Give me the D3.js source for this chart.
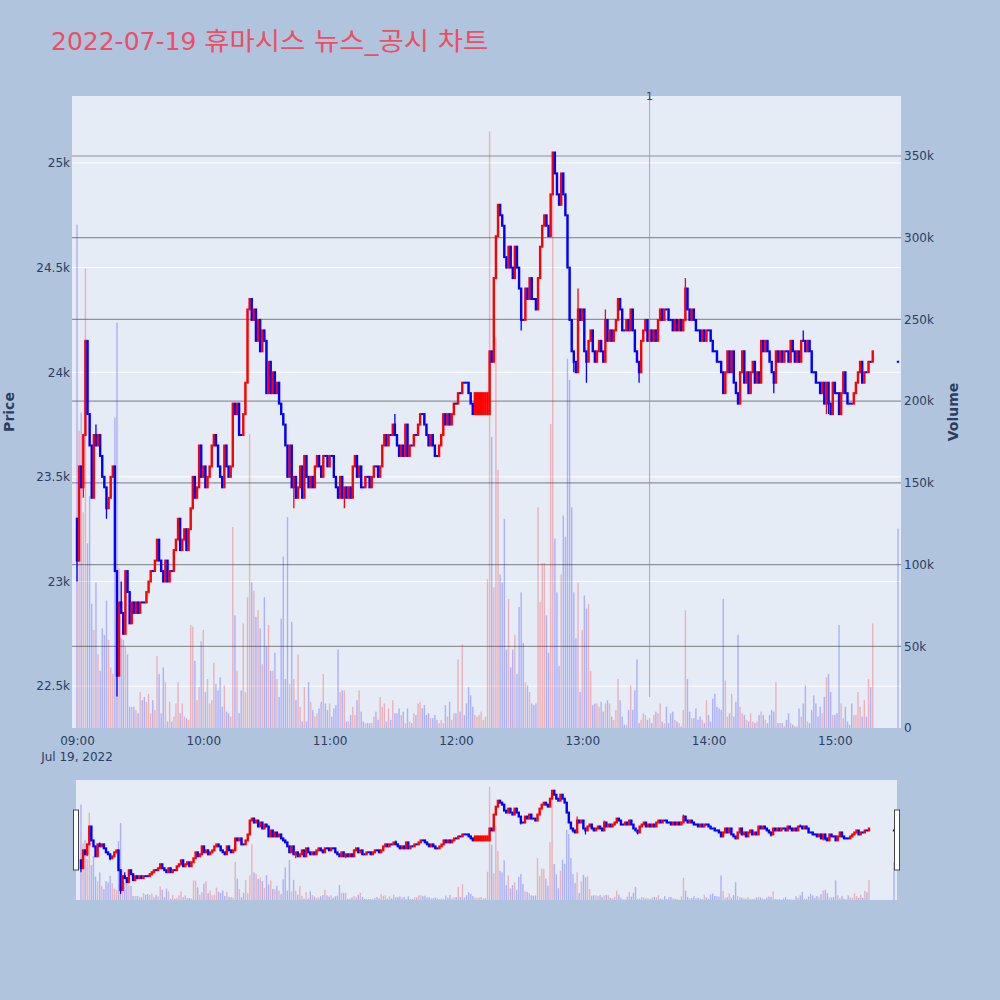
<!DOCTYPE html>
<html>
<head>
<meta charset="utf-8">
<script src="https://d3js.org/d3.v7.min.js"></script>
<style>
  body { margin: 0; background: #b0c4de; }
  svg { display: block; }
</style>
</head>
<body>
<div id="canvas"></div>
<script>
// chart data
var chartTitleDate = '2022-07-19';
var chartTitleName = '휴마시스 뉴스_공시 차트';
var tradeDate = [2022, 6, 19];
var sessionStart = '09:00';
var sessionEnd = '15:30';
var hourTicks = ['09:00', '10:00', '11:00', '12:00', '13:00', '14:00', '15:00'];
var priceTicks = [22500, 23000, 23500, 24000, 24500, 25000];
var volumeTicks = [0, 50, 100, 150, 200, 250, 300, 350]; // thousands of shares

// one close per minute from 09:00 (KRW)
var closes = [
  23100, 23550, 23450, 23700, 24150, 23800, 23650, 23400, 23700, 23650,
  23700, 23600, 23500, 23450, 23350, 23400, 23500, 23550, 23050, 22550,
  22900, 22850, 22750, 23050, 22950, 22800, 22900, 22850, 22900, 22850,
  22900, 22900, 22900, 22950, 23000, 23050, 23050, 23100, 23200, 23100,
  23050, 23000, 23100, 23000, 23050, 23050, 23150, 23200, 23300, 23150,
  23200, 23250, 23150, 23250, 23350, 23500, 23400, 23450, 23650, 23500,
  23550, 23450, 23500, 23550, 23650, 23700, 23650, 23550, 23500, 23450,
  23650, 23550, 23500, 23550, 23850, 23800, 23850, 23700, 23700, 23800,
  23950, 24300, 24350, 24250, 24300, 24150, 24250, 24100, 24200, 24150,
  23900, 24050, 23900, 24000, 23900, 23950, 23850, 23800, 23750, 23650,
  23500, 23650, 23450, 23500, 23400, 23450, 23550, 23400, 23600, 23500,
  23450, 23500, 23450, 23550, 23600, 23550, 23500, 23600, 23600, 23550,
  23600, 23600, 23500, 23450, 23400, 23500, 23400, 23450, 23400, 23450,
  23400, 23550, 23600, 23500, 23550, 23450, 23450, 23500, 23500, 23450,
  23500, 23550, 23550, 23500, 23550, 23650, 23700, 23650, 23700, 23700,
  23750, 23700, 23650, 23600, 23650, 23600, 23750, 23600, 23650, 23650,
  23700, 23700, 23750, 23800, 23800, 23750, 23700, 23650, 23700, 23650,
  23600, 23600, 23650, 23700, 23800, 23750, 23800, 23750, 23800, 23850,
  23850, 23900, 23900, 23950, 23950, 23950, 23900, 23850, 23800, 23900,
  23900, 23900, 23900, 23900, 23900, 23900, 24100, 24050, 24450, 24650,
  24800, 24750, 24700, 24550, 24500, 24600, 24500, 24450, 24600, 24500,
  24400, 24250, 24250, 24400, 24350, 24450, 24350, 24350, 24300, 24450,
  24600, 24700, 24750, 24700, 24650, 24850, 25050, 24950, 24850, 24800,
  24950, 24850, 24750, 24500, 24250, 24100, 24050, 24000, 24300, 24250,
  24300, 24100, 24050, 24150, 24200, 24100, 24050, 24100, 24150, 24100,
  24050, 24250, 24150, 24200, 24150, 24200, 24250, 24350, 24300, 24200,
  24200, 24250, 24200, 24300, 24200, 24100, 24050, 24000, 24150, 24200,
  24250, 24150, 24200, 24150, 24200, 24150, 24250, 24300, 24250, 24300,
  24300, 24250, 24250, 24200, 24250, 24200, 24250, 24200, 24250, 24400,
  24300, 24250, 24300, 24250, 24200, 24200, 24150, 24200, 24150, 24200,
  24200, 24150, 24100, 24100, 24050, 24050, 24000, 23900, 24000, 24100,
  24000, 24100, 23950, 23900, 23850, 24000, 24100, 23950, 24000, 23900,
  24000, 24050, 23950, 24000, 23950, 24150, 24100, 24150, 24100, 24050,
  24000, 23950, 24100, 24050, 24100, 24050, 24100, 24100, 24050, 24150,
  24100, 24050, 24100, 24050, 24150, 24150, 24100, 24150, 24100, 24000,
  24000, 23950, 23950, 23900, 23950, 23850, 23950, 23850, 23800, 23950,
  23900, 23900, 23800, 23900, 24000, 23900, 23850, 23850, 23850, 23900,
  23950, 24000, 24050, 23950, 24000, 24000, 24050, 24050, 24100
];

// minutes whose open is not the previous close
var openOverrides = { 0: 23300, 190: 23800, 191: 23800, 192: 23800, 193: 23800, 194: 23800, 195: 23800, 196: 23800 };
// minutes with a wick beyond the body
var highOverrides = { 9: 23750, 21: 23000, 151: 23800, 238: 24400, 251: 24300, 289: 24450, 345: 24200 };
var lowOverrides = { 0: 23000, 3: 23400, 14: 23300, 19: 22450, 103: 23350, 127: 23350, 211: 24200, 218: 24300,
  236: 24000, 242: 23950, 267: 23950, 331: 23900, 356: 23800, 357: 23800 };

// volume per minute, thousands of shares
var volumeThousands = [
  308, 182, 193, 132, 281, 113, 142, 76, 60, 89,
  45, 35, 61, 57, 78, 54, 37, 33, 190, 248,
  98, 55, 54, 50, 45, 13, 13, 13, 11, 9,
  22, 17, 19, 16, 21, 9, 17, 11, 44, 33,
  9, 37, 28, 4, 16, 4, 7, 15, 28, 9,
  15, 7, 6, 5, 63, 62, 41, 17, 25, 53,
  60, 22, 30, 15, 17, 40, 27, 23, 31, 13,
  26, 10, 9, 7, 123, 69, 35, 9, 23, 64,
  22, 80, 180, 89, 84, 68, 72, 61, 39, 80,
  50, 63, 35, 35, 46, 30, 19, 67, 105, 30,
  129, 27, 65, 30, 17, 45, 13, 4, 25, 4,
  28, 16, 11, 7, 9, 12, 16, 33, 15, 11,
  15, 7, 12, 14, 48, 22, 23, 23, 4, 4,
  8, 13, 8, 17, 23, 10, 4, 3, 3, 3,
  3, 7, 10, 5, 19, 13, 15, 4, 12, 5,
  17, 9, 9, 12, 8, 10, 3, 12, 4, 3,
  9, 8, 15, 16, 12, 14, 8, 9, 6, 6,
  8, 5, 3, 5, 3, 14, 7, 16, 5, 9,
  9, 42, 10, 51, 8, 15, 25, 20, 13, 8,
  7, 8, 10, 5, 7, 91, 365, 178, 86, 239,
  158, 94, 89, 128, 48, 79, 37, 48, 57, 33,
  74, 83, 52, 28, 26, 22, 15, 14, 15, 135,
  77, 101, 101, 69, 46, 186, 352, 116, 83, 38,
  94, 130, 117, 226, 213, 135, 83, 55, 89, 22,
  60, 81, 73, 76, 35, 14, 15, 15, 13, 16,
  10, 15, 17, 15, 7, 5, 11, 30, 17, 7,
  2, 2, 11, 26, 11, 23, 42, 3, 5, 9,
  8, 5, 6, 3, 8, 10, 9, 15, 4, 3,
  13, 3, 9, 10, 5, 4, 3, 1, 11, 72,
  30, 10, 6, 6, 12, 5, 7, 5, 3, 17,
  8, 4, 18, 21, 13, 12, 11, 79, 29, 7,
  9, 21, 7, 16, 57, 13, 9, 8, 5, 4,
  9, 4, 3, 4, 8, 10, 8, 5, 3, 8,
  11, 10, 28, 3, 3, 3, 1, 5, 9, 3,
  2, 1, 1, 12, 7, 15, 26, 4, 3, 11,
  20, 15, 7, 13, 9, 19, 31, 33, 22, 8,
  8, 9, 63, 15, 6, 13, 4, 2, 15, 8,
  8, 22, 13, 7, 17, 7, 30, 25, 64
];

// closing single-price auction
var auctionTime = '15:30';
var auctionPrice = 24050;
var auctionVolume = 122;

// news / disclosure markers
var newsTimes = ['13:32'];
var newsLabels = ['1'];

(function (d3) {
  var
    svg,
    plot,
    candles,
    x, xMini, yPrice, yVolume, yPriceMini, yVolumeMini,
    plotBox = { left: 72, right: 901, top: 96, bottom: 728 },
    miniBox = { left: 76, right: 897, top: 780, bottom: 900 },
    upColor = '#ff0000',
    downColor = '#0000ff',
    textColor = '#2a3f5f',
    fontFamily = '"DejaVu Sans", Verdana, "Noto Sans CJK KR", sans-serif';

  init();

  function init () {
    buildCandles();
    createSvg();
    createScales();
    createGrid();
    createVolumeBars(plot, x, yVolume, 1.4);
    createCandles(plot, x, yPrice, 2.4, 1.3);
    createNewsMarks();
    createAxes();
    createTitles();
    createRangeSlider();
  }

  function timeAt (hhmm) {
    var p = hhmm.split(':');
    return new Date(tradeDate[0], tradeDate[1], tradeDate[2], +p[0], +p[1]);
  }

  function buildCandles () {
    var start = timeAt(sessionStart);
    candles = closes.map(function (c, i) {
      var o = (i in openOverrides) ? openOverrides[i] : closes[i - 1];
      var h = Math.max(o, c, (i in highOverrides) ? highOverrides[i] : c);
      var l = Math.min(o, c, (i in lowOverrides) ? lowOverrides[i] : c);
      return { t: d3.timeMinute.offset(start, i), o: o, h: h, l: l, c: c, v: volumeThousands[i] };
    });
    candles.push({
      t: timeAt(auctionTime), o: auctionPrice, h: auctionPrice, l: auctionPrice,
      c: auctionPrice, v: auctionVolume
    });
  }

  function colorOf (d) {
    return d.c > d.o ? upColor : downColor;
  }

  function createSvg () {
    d3.select('#canvas').selectAll('svg').remove();
    svg = d3.select('#canvas')
      .append('svg')
      .attr('width', 1000)
      .attr('height', 1000)
      .style('font-family', fontFamily);

    svg.append('rect')
      .attr('width', 1000)
      .attr('height', 1000)
      .attr('fill', '#b0c4de');

    svg.append('defs')
      .append('clipPath')
      .attr('id', 'plot-clip')
      .append('rect')
      .attr('x', plotBox.left)
      .attr('y', plotBox.top)
      .attr('width', plotBox.right - plotBox.left)
      .attr('height', plotBox.bottom - plotBox.top);

    svg.append('rect')
      .attr('x', plotBox.left)
      .attr('y', plotBox.top)
      .attr('width', plotBox.right - plotBox.left)
      .attr('height', plotBox.bottom - plotBox.top)
      .attr('fill', '#e5ecf6');

    plot = svg.append('g').attr('clip-path', 'url(#plot-clip)');
  }

  function createScales () {
    x = d3.scaleTime()
      .domain([timeAt(sessionStart), timeAt(sessionEnd)])
      .range([77, 898]);
    yPrice = d3.scaleLinear().domain([22300, 25320]).range([plotBox.bottom, plotBox.top]);
    yVolume = d3.scaleLinear().domain([0, 386.7]).range([plotBox.bottom, plotBox.top]);

    // the range slider shows the whole x range of the main plot
    xMini = d3.scaleTime()
      .domain([x.invert(plotBox.left), x.invert(plotBox.right)])
      .range([miniBox.left, miniBox.right]);
    yPriceMini = yPrice.copy().range([miniBox.bottom, miniBox.top]);
    yVolumeMini = yVolume.copy().range([miniBox.bottom, miniBox.top]);
  }

  function createGrid () {
    plot.append('g')
      .selectAll('line')
      .data(priceTicks)
      .enter()
      .append('line')
      .attr('x1', plotBox.left)
      .attr('x2', plotBox.right)
      .attr('y1', function (d) { return yPrice(d); })
      .attr('y2', function (d) { return yPrice(d); })
      .attr('stroke', '#ffffff')
      .attr('stroke-width', 1);

    plot.append('g')
      .selectAll('line')
      .data(volumeTicks.filter(function (d) { return d > 0; }))
      .enter()
      .append('line')
      .attr('x1', plotBox.left)
      .attr('x2', plotBox.right)
      .attr('y1', function (d) { return yVolume(d); })
      .attr('y2', function (d) { return yVolume(d); })
      .attr('stroke', '#8f9297')
      .attr('stroke-width', 1.2);
  }

  function createVolumeBars (group, xs, ys, barWidth) {
    group.append('g')
      .selectAll('rect')
      .data(candles)
      .enter()
      .append('rect')
      .attr('x', function (d) { return xs(d.t) - barWidth / 2; })
      .attr('y', function (d) { return ys(d.v); })
      .attr('width', barWidth)
      .attr('height', function (d) { return ys(0) - ys(d.v); })
      .attr('fill', colorOf)
      .attr('fill-opacity', 0.25);
  }

  // body is outlined like a 2px box line, so flat minutes still show as a short dash
  function createCandles (group, xs, ys, bodyWidth, wickWidth) {
    var g = group.append('g')
      .selectAll('g')
      .data(candles)
      .enter()
      .append('g');

    g.append('line')
      .attr('x1', function (d) { return xs(d.t); })
      .attr('x2', function (d) { return xs(d.t); })
      .attr('y1', function (d) { return ys(d.h); })
      .attr('y2', function (d) { return ys(d.l); })
      .attr('stroke', colorOf)
      .attr('stroke-width', wickWidth);

    g.append('rect')
      .attr('x', function (d) { return xs(d.t) - bodyWidth / 2; })
      .attr('y', function (d) { return ys(Math.max(d.o, d.c)) - 1; })
      .attr('width', bodyWidth)
      .attr('height', function (d) {
        return ys(Math.min(d.o, d.c)) - ys(Math.max(d.o, d.c)) + 2;
      })
      .attr('fill', colorOf);
  }

  function createNewsMarks () {
    var marks = newsTimes.map(function (t, i) { return { t: timeAt(t), label: newsLabels[i] }; });

    plot.append('g')
      .selectAll('line')
      .data(marks)
      .enter()
      .append('line')
      .attr('x1', function (d) { return x(d.t); })
      .attr('x2', function (d) { return x(d.t); })
      .attr('y1', plotBox.top)
      .attr('y2', yVolume(19))
      .attr('stroke', '#6f8fe8')
      .attr('stroke-opacity', 0.7)
      .attr('stroke-width', 1);

    svg.append('g')
      .selectAll('text')
      .data(marks)
      .enter()
      .append('text')
      .attr('x', function (d) { return x(d.t); })
      .attr('y', plotBox.top + 4)
      .attr('text-anchor', 'middle')
      .style('font-size', '11px')
      .attr('fill', '#444')
      .text(function (d) { return d.label; });
  }

  function styleAxis (g) {
    g.select('.domain').remove();
    g.selectAll('text')
      .style('font-family', fontFamily)
      .style('font-size', '12px')
      .attr('fill', textColor);
  }

  function kLabel (d) {
    return d === 0 ? '0' : (d / 1000) + 'k';
  }

  function createAxes () {
    svg.append('g')
      .attr('transform', 'translate(0,' + (plotBox.bottom + 2) + ')')
      .call(d3.axisBottom(x)
        .tickValues(hourTicks.map(timeAt))
        .tickFormat(d3.timeFormat('%H:%M'))
        .tickSize(0)
        .tickPadding(6))
      .call(styleAxis);

    svg.append('text')
      .attr('x', x(timeAt(sessionStart)))
      .attr('y', plotBox.bottom + 33)
      .attr('text-anchor', 'middle')
      .style('font-size', '12px')
      .attr('fill', textColor)
      .text(d3.timeFormat('%b %-d, %Y')(timeAt(sessionStart)));

    svg.append('g')
      .attr('transform', 'translate(' + plotBox.left + ',0)')
      .call(d3.axisLeft(yPrice)
        .tickValues(priceTicks)
        .tickFormat(kLabel)
        .tickSize(0)
        .tickPadding(2))
      .call(styleAxis);

    svg.append('g')
      .attr('transform', 'translate(' + plotBox.right + ',0)')
      .call(d3.axisRight(yVolume)
        .tickValues(volumeTicks)
        .tickFormat(function (d) { return d === 0 ? '0' : d + 'k'; })
        .tickSize(0)
        .tickPadding(3))
      .call(styleAxis);
  }

  function createTitles () {
    var title = svg.append('text')
      .attr('x', 51)
      .attr('y', 50)
      .style('font-size', '25px')
      .attr('fill', '#eb4f63');
    title.append('tspan').text(chartTitleDate + ' ');
    title.append('tspan')
      .attr('textLength', 284)
      .attr('lengthAdjust', 'spacingAndGlyphs')
      .text(chartTitleName);

    var mid = (plotBox.top + plotBox.bottom) / 2;
    svg.append('text')
      .attr('transform', 'translate(14,' + mid + ') rotate(-90)')
      .attr('text-anchor', 'middle')
      .style('font-size', '14px')
      .style('font-weight', 'bold')
      .attr('fill', textColor)
      .text('Price');

    svg.append('text')
      .attr('transform', 'translate(958,' + mid + ') rotate(-90)')
      .attr('text-anchor', 'middle')
      .style('font-size', '14px')
      .style('font-weight', 'bold')
      .attr('fill', textColor)
      .text('Volume');
  }

  function createRangeSlider () {
    svg.append('defs')
      .append('clipPath')
      .attr('id', 'mini-clip')
      .append('rect')
      .attr('x', miniBox.left)
      .attr('y', miniBox.top)
      .attr('width', miniBox.right - miniBox.left)
      .attr('height', miniBox.bottom - miniBox.top);

    svg.append('rect')
      .attr('x', miniBox.left)
      .attr('y', miniBox.top)
      .attr('width', miniBox.right - miniBox.left)
      .attr('height', miniBox.bottom - miniBox.top)
      .attr('fill', '#e5ecf6');

    var mini = svg.append('g').attr('clip-path', 'url(#mini-clip)');
    createVolumeBars(mini, xMini, yVolumeMini, 1.4);
    createCandles(mini, xMini, yPriceMini, 2.4, 1.2);

    var handleTop = miniBox.top + 30;
    svg.append('g')
      .selectAll('rect')
      .data([miniBox.left, miniBox.right])
      .enter()
      .append('rect')
      .attr('x', function (d) { return d - 2.5; })
      .attr('y', handleTop)
      .attr('width', 5)
      .attr('height', 60)
      .attr('fill', '#ffffff')
      .attr('stroke', '#444')
      .attr('stroke-width', 1);
  }
})(window.d3);
</script>
</body>
</html>
